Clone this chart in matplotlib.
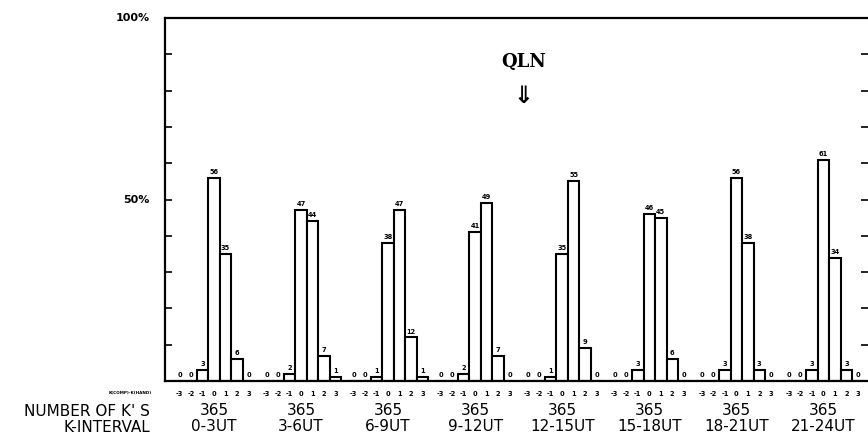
import matplotlib.pyplot as plt

# K(COMP) - K(HAND) difference classes
diffs = [-3, -2, -1, 0, 1, 2, 3]
diff_labels = ["-3", "-2", "-1", "0", "1", "2", "3"]

intervals = ["0-3UT", "3-6UT", "6-9UT", "9-12UT", "12-15UT", "15-18UT", "18-21UT", "21-24UT"]
counts = [365, 365, 365, 365, 365, 365, 365, 365]

# percent of K's in each difference class, per 3-hour interval
pct_0_3 = [0, 0, 3, 56, 35, 6, 0]
pct_3_6 = [0, 0, 2, 47, 44, 7, 1]
pct_6_9 = [0, 0, 1, 38, 47, 12, 1]
pct_9_12 = [0, 0, 2, 41, 49, 7, 0]
pct_12_15 = [0, 0, 1, 35, 55, 9, 0]
pct_15_18 = [0, 0, 3, 46, 45, 6, 0]
pct_18_21 = [0, 0, 3, 56, 38, 3, 0]
pct_21_24 = [0, 0, 3, 61, 34, 3, 0]
percents = [pct_0_3, pct_3_6, pct_6_9, pct_9_12, pct_12_15, pct_15_18, pct_18_21, pct_21_24]

first_center = 4.26
group_step = 7.57

fig = plt.figure(figsize=(8.68, 4.36), dpi=100)
ax = fig.add_axes([165 / 868, 1 - 381 / 436, 703 / 868, 363 / 436])

tick_pos = []
tick_lab = []
for i, vals in enumerate(percents):
    c = first_center + group_step * i
    xs = [c + d for d in diffs]
    ax.bar(xs, vals, width=1.0, facecolor="white", edgecolor="black", linewidth=1.5)
    for x, v in zip(xs, vals):
        ax.text(x, v + 0.8, str(v), ha="center", va="bottom", fontsize=4.8, fontweight="bold")
    tick_pos += xs
    tick_lab += diff_labels
    ax.text(c, -8.2, str(counts[i]), ha="center", va="center", fontsize=11)
    ax.text(c, -12.6, intervals[i], ha="center", va="center", fontsize=11)

ax.set_xlim(0, 703 / 11.5)
ax.set_ylim(0, 100)

ax.set_xticks(tick_pos)
ax.set_xticklabels(tick_lab, fontsize=4.8, fontweight="bold")
ax.tick_params(axis="x", length=0, pad=7)

ax.set_yticks(range(10, 100, 10))
ax.set_yticklabels([])
ax.tick_params(axis="y", direction="in", length=5, width=1.2, left=True, right=True)
ax.text(-0.022, 50, "50%", transform=ax.get_yaxis_transform(), ha="right", va="center", fontsize=8, fontweight="bold")
ax.text(-0.022, 100, "100%", transform=ax.get_yaxis_transform(), ha="right", va="center", fontsize=8, fontweight="bold")

ax.spines["right"].set_visible(False)
for s in ["left", "top", "bottom"]:
    ax.spines[s].set_linewidth(1.6)

fig.text(152 / 868, 1 - 393 / 436, "K(COMP)-K(HAND)", ha="right", va="center", fontsize=3, fontweight="bold")
fig.text(150 / 868, 1 - 411 / 436, "NUMBER OF K' S", ha="right", va="center", fontsize=11)
fig.text(150 / 868, 1 - 427 / 436, "K-INTERVAL", ha="right", va="center", fontsize=11)

fig.text(524 / 868, 1 - 62 / 436, "QLN", ha="center", va="center", fontsize=13, fontweight="bold", family="DejaVu Serif")
fig.text(523 / 868, 1 - 96 / 436, "\u21d3", ha="center", va="center", fontsize=17, fontweight="bold")

fig.savefig("out.png", dpi=100)
